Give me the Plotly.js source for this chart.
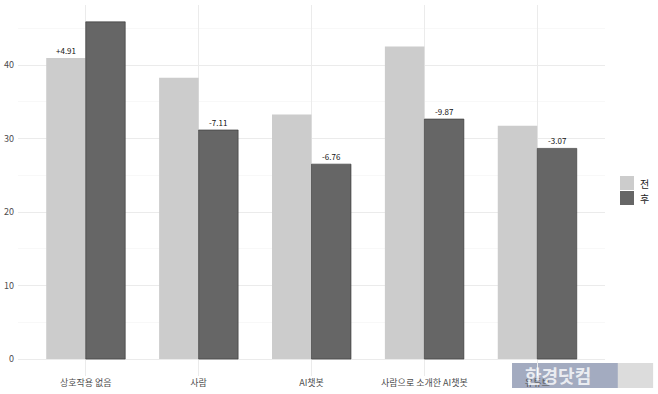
<!DOCTYPE html>
<html>
<head>
<meta charset="utf-8">
<script src="https://cdn.plot.ly/plotly-3.0.1.min.js"></script>
<style>html,body{margin:0;padding:0;background:#fff;}#chart{width:658px;height:394px;}</style>
</head>
<body>
<div id="chart"></div>
<script>
const categories = ["상호작용 없음", "사람", "AI챗봇", "사람으로 소개한 AI챗봇", "유튜브"];
const before = [41.0, 38.3, 33.3, 42.55, 31.75];
const after = [45.91, 31.19, 26.54, 32.68, 28.68];
const diffLabels = ["+4.91", "-7.11", "-6.76", "-9.87", "-3.07"];
const seriesNames = ["전", "후"];
const seriesColors = ["#cccccc", "#666666"];

const font = "'Noto Sans CJK KR', 'Noto Sans', sans-serif";

const annotations = categories.map((c, i) => {
  const lowerIsBefore = before[i] < after[i];
  return {
    x: i + (lowerIsBefore ? -0.175 : 0.175),
    y: Math.min(before[i], after[i]),
    xref: "x", yref: "y",
    text: diffLabels[i],
    showarrow: false,
    yanchor: "bottom",
    yshift: 0,
    font: {family: font, size: 8, color: "#111"}
  };
});

// manual legend
const legendShapes = [];
seriesNames.forEach((name, k) => {
  const top = 0.5391 - k * 0.0404;
  legendShapes.push({type: "rect", xref: "paper", yref: "paper",
    x0: 1.0256, x1: 1.0494, y0: top - 0.0378, y1: top,
    fillcolor: seriesColors[k], line: {width: 0}});
  annotations.push({xref: "paper", yref: "paper", x: 1.056, y: top - 0.019,
    xanchor: "left", yanchor: "middle", text: name, showarrow: false,
    font: {family: font, size: 10, color: "#222"}});
});

// watermark
annotations.push({
  xref: "paper", yref: "paper", x: 0.92, y: 0.0015, xanchor: "center", yanchor: "middle",
  text: "<b>한경닷컴</b>", showarrow: false,
  font: {family: font, size: 18, color: "rgba(255,255,255,0.8)"}
});

const data = [
  {type: "bar", name: seriesNames[0], x: categories, y: before,
   marker: {color: seriesColors[0], line: {width: 0}}},
  {type: "bar", name: seriesNames[1], x: categories, y: after,
   marker: {color: seriesColors[1], line: {width: 0.6, color: "#333333"}}}
];

const layout = {
  width: 658, height: 394,
  margin: {l: 18, r: 53, t: 5, b: 18},
  paper_bgcolor: "#ffffff", plot_bgcolor: "#ffffff",
  showlegend: false,
  barmode: "group", bargap: 0.3, bargroupgap: 0,
  font: {family: font, size: 9, color: "#4d4d4d"},
  xaxis: {
    type: "category", showgrid: true, gridcolor: "#ebebeb", gridwidth: 1,
    ticks: "", showline: false, zeroline: false, automargin: false,
    tickfont: {family: font, size: 9, color: "#4d4d4d"},
    range: [-0.6, 4.6]
  },
  yaxis: {
    range: [-2.3, 48.2], dtick: 10, tick0: 0, automargin: false,
    showgrid: true, gridcolor: "#ebebeb", gridwidth: 1,
    minor: {dtick: 5, showgrid: true, gridcolor: "#f4f4f4", gridwidth: 0.6},
    zeroline: false, ticks: "", showline: false, ticklabelstandoff: 3,
    tickfont: {family: font, size: 9, color: "#4d4d4d"}
  },
  shapes: legendShapes.concat([
    {type: "rect", xref: "paper", yref: "paper", x0: 0.8416, x1: 1.022, y0: -0.0323, y1: 0.035,
     fillcolor: "#a3abc0", line: {width: 0}, layer: "below"},
    {type: "rect", xref: "paper", yref: "paper", x0: 1.022, x1: 1.082, y0: -0.0323, y1: 0.035,
     fillcolor: "#dcdcdc", line: {width: 0}, layer: "below"}
  ]),
  annotations: annotations
};

Plotly.newPlot("chart", data, layout, {displayModeBar: false, staticPlot: true});
</script>
</body>
</html>
